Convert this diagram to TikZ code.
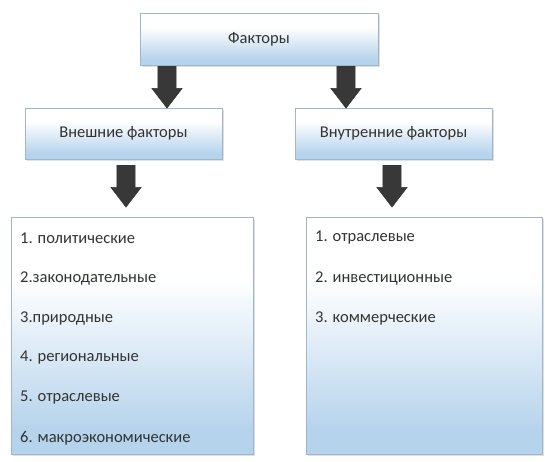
\documentclass[tikz,border=0pt]{standalone}
\usepackage{fontspec}
\setmainfont{Carlito}
\usetikzlibrary{calc,shapes.arrows,shadows}

\definecolor{boxblue}{HTML}{B6D3EC}
\definecolor{boxline}{HTML}{9FB5CB}
\definecolor{arrowgray}{HTML}{383838}
\pgfdeclareverticalshading{boxshade}{100bp}{color(0bp)=(boxblue); color(30bp)=(boxblue); color(62bp)=(white); color(100bp)=(white)}

\tikzset{
  factor/.style={draw=boxline, shading=boxshade, line width=0.8pt,
    drop shadow={shadow xshift=1.5pt, shadow yshift=-1.5pt, opacity=0.25},
    font=\fontsize{16.5}{18}\selectfont, text=black!80},
  item/.style={anchor=west, inner sep=0pt, font=\fontsize{16.5}{18}\selectfont, text=black!80},
  downarrow/.style={single arrow, rotate=-90, anchor=tail, fill=arrowgray,
    draw=black!80, minimum height=42pt, inner xsep=0pt, inner ysep=9pt,
    single arrow head extend=6pt, single arrow tip angle=75}
}

\begin{document}
\begin{tikzpicture}[x=1pt,y=-1pt]
  \useasboundingbox (0,0) rectangle (545,461);
  % boxes
  \node[factor, minimum width=238pt, minimum height=52pt] (top) at (259,39) {Факторы};
  \node[factor, minimum width=197pt, minimum height=51pt] (ext) at (123.5,133.5) {Внешние факторы};
  \node[factor, minimum width=197pt, minimum height=51pt] (int) at (393.5,133.5) {Внутренние факторы};
  \node[factor, minimum width=242pt, minimum height=237pt] (extlist) at (132,335.5) {};
  \node[factor, minimum width=236pt, minimum height=237pt] (intlist) at (424,335.5) {};
  % arrows
  \node[downarrow] (a1) at (167,66) {};
  \node[downarrow] (a2) at (346,66) {};
  \node[downarrow] (a3) at (126,165) {};
  \node[downarrow] (a4) at (392,165) {};
  % lists
  \foreach \t [count=\i] in {1. политические, 2.законодательные, 3.природные,
      4. региональные, 5. отраслевые, 6. макроэкономические}
    \node[item] (e\i) at (20,{238+40*(\i-1)}) {\t};
  \foreach \t [count=\i] in {1. отраслевые, 2. инвестиционные, 3. коммерческие}
    \node[item] (n\i) at (315,{238+40*(\i-1)}) {\t};
\end{tikzpicture}
\end{document}
